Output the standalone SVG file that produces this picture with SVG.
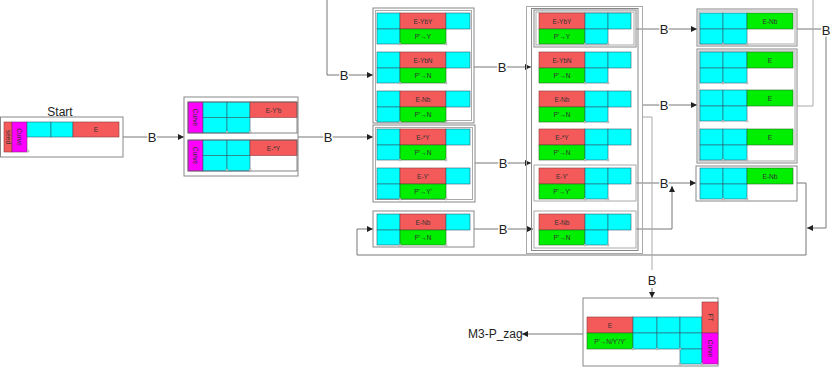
<svg xmlns="http://www.w3.org/2000/svg" width="830" height="368" viewBox="0 0 830 368">
<style>
.c{fill:#00ffff;stroke:#2f5f70;stroke-width:.6}
.r{fill:#f55a5a;stroke:#8a3a3a;stroke-width:.6}
.g{fill:#00ee00;stroke:#2a6a2a;stroke-width:.6}
.m{fill:#ff00ff;stroke:#7a2a7a;stroke-width:.6}
.box{fill:none;stroke:#888;stroke-width:1}
.box2{fill:none;stroke:#aaa;stroke-width:1}
.inb{fill:none;stroke:#666;stroke-width:.8}
.t{font-family:"Liberation Sans",Arial,sans-serif;font-size:6.5px;fill:#333;text-anchor:middle;dominant-baseline:central}
.lb{font-family:"Liberation Sans",Arial,sans-serif;font-size:13px;fill:#222;text-anchor:middle;dominant-baseline:central;paint-order:stroke;stroke:#fff;stroke-width:3}
.tx{font-family:"Liberation Sans",Arial,sans-serif;font-size:12px;fill:#222}
.cn{fill:none;stroke:#777;stroke-width:1}
.pt{fill:#fff;stroke:#888;stroke-width:.6}
</style>
<defs>
<marker id="ar" viewBox="0 0 6 6" refX="6" refY="3" markerWidth="6" markerHeight="6" markerUnits="userSpaceOnUse" orient="auto">
<path d="M0,0 L6,3 L0,6 z" fill="#222"/>
</marker>
<g id="lA">
<rect class="c" x="0" y="0" width="23" height="16"/>
<rect class="r" x="23" y="0" width="46" height="16"/>
<rect class="c" x="69" y="0" width="24" height="16"/>
<rect class="c" x="0" y="16" width="23" height="15"/>
<rect class="g" x="23" y="16" width="46" height="15"/>
<circle class="pt" cx="23" cy="31" r="1"/>
<circle class="pt" cx="69" cy="31" r="1"/>
</g>
<g id="lB">
<rect class="r" x="0" y="0" width="46" height="16"/>
<rect class="c" x="46" y="0" width="23" height="16"/>
<rect class="c" x="69" y="0" width="23" height="16"/>
<rect class="g" x="0" y="16" width="46" height="15"/>
<rect class="c" x="46" y="16" width="23" height="15"/>
<circle class="pt" cx="46" cy="31" r="1"/>
<circle class="pt" cx="69" cy="31" r="1"/>
</g>
<g id="lC">
<rect class="c" x="0" y="0" width="23" height="16"/>
<rect class="c" x="23" y="0" width="24" height="16"/>
<rect class="g" x="47" y="0" width="46" height="16"/>
<rect class="c" x="0" y="16" width="23" height="15"/>
<rect class="c" x="23" y="16" width="24" height="15"/>
<circle class="pt" cx="23" cy="31" r="1"/>
<circle class="pt" cx="47" cy="31" r="1"/>
</g>
<g id="lN2">
<rect class="m" x="0" y="0" width="15" height="31"/>
<rect class="c" x="15" y="0" width="24" height="15.5"/>
<rect class="c" x="39" y="0" width="23" height="15.5"/>
<rect class="r" x="62" y="0" width="47" height="15.5"/>
<rect class="c" x="15" y="15.5" width="24" height="15.5"/>
<rect class="c" x="39" y="15.5" width="23" height="15.5"/>
<rect class="inb" x="0" y="0" width="109" height="31"/>
<circle class="pt" cx="39" cy="30" r="1"/>
<circle class="pt" cx="62" cy="30" r="1"/>
</g>
</defs>
<rect width="830" height="368" fill="#fff"/>

<g id="connectors">
<path class="cn" d="M123,137 H184" marker-end="url(#ar)"/>
<path class="cn" d="M298,137 H373" marker-end="url(#ar)"/>
<path class="cn" d="M327,0 V75 H373" marker-end="url(#ar)"/>
<path class="cn" d="M474,67 H531" marker-end="url(#ar)"/>
<path class="cn" d="M475,163 H531" marker-end="url(#ar)"/>
<path class="cn" d="M474,229 H533" marker-end="url(#ar)"/>
<path class="cn" d="M797,183 H806 V255 H357 V229 H373" marker-end="url(#ar)"/>
<path class="cn" d="M797,29 H826 V228 H807" marker-end="url(#ar)"/>
<path class="box2" d="M797,106 H813 V0"/>
<path class="cn" d="M636,29 H697" marker-end="url(#ar)"/>
<path class="cn" d="M643,105 H697" marker-end="url(#ar)"/>
<path class="cn" d="M636,183 H696" marker-end="url(#ar)"/>
<path class="cn" d="M636,229 H672 V186" marker-end="url(#ar)"/>
<path class="box2" d="M643,117 H652 V270"/>
<path class="cn" d="M652,288 V298" marker-end="url(#ar)"/>
<path class="cn" d="M583,334 H522" marker-end="url(#ar)"/>
<text class="lb" x="152" y="137">B</text>
<text class="lb" x="328" y="137">B</text>
<text class="lb" x="344" y="75">B</text>
<text class="lb" x="502" y="67">B</text>
<text class="lb" x="503" y="163">B</text>
<text class="lb" x="503" y="229">B</text>
<text class="lb" x="664" y="29">B</text>
<text class="lb" x="664" y="105">B</text>
<text class="lb" x="664" y="183">B</text>
<text class="lb" x="652" y="280">B</text>
<text class="lb" x="826" y="30">B</text>
<text class="tx" x="468" y="338">M3-P_zag</text>
</g>

<g id="start">
<text class="tx" x="60" y="116" text-anchor="middle" font-size="13">Start</text>
<rect class="box" x="0.5" y="117" width="122.5" height="40"/>
<rect class="r" x="4" y="122" width="8" height="30"/>
<rect class="m" x="12" y="122" width="15" height="30"/>
<rect class="c" x="27" y="122" width="24" height="15"/>
<rect class="c" x="51" y="122" width="22" height="15"/>
<rect class="r" x="73" y="122" width="46" height="15"/>
<circle class="pt" cx="28" cy="151" r="1"/>
<text class="t" transform="translate(8,137) rotate(90)">seed</text>
<text class="t" transform="translate(19.5,137) rotate(90)">Curve</text>
<text class="t" x="96" y="129.5">E</text>
</g>

<g id="node2">
<rect class="box" x="184" y="97" width="114" height="79"/>
<use href="#lN2" x="188" y="102"/>
<use href="#lN2" x="188" y="140"/>
<text class="t" transform="translate(195.5,117.5) rotate(90)">Curve</text>
<text class="t" transform="translate(195.5,155.5) rotate(90)">Curve</text>
<text class="t" x="273.5" y="110">E-Y'b</text>
<text class="t" x="273.5" y="148">E-*Y</text>
</g>

<g id="col3top">
<rect class="box" x="373" y="8" width="101" height="115"/>
<rect class="box2" x="375.5" y="10.5" width="96" height="110"/>
<use href="#lA" x="377" y="13"/>
<text class="t" x="423" y="21">E-YbY</text>
<text class="t" x="423" y="36.5">P'→Y</text>
<use href="#lA" x="377" y="52"/>
<text class="t" x="423" y="60">E-YbN</text>
<text class="t" x="423" y="75.5">P'→N</text>
<use href="#lA" x="377" y="91"/>
<text class="t" x="423" y="99">E-Nb</text>
<text class="t" x="423" y="114.5">P'→N</text>
</g>

<g id="col3mid">
<rect class="box" x="373" y="125" width="102" height="77"/>
<rect class="box2" x="375.5" y="127.5" width="97" height="72"/>
<use href="#lA" x="377" y="129"/>
<text class="t" x="423" y="137">E-*Y</text>
<text class="t" x="423" y="152.5">P'→N</text>
<use href="#lA" x="377" y="168"/>
<text class="t" x="423" y="176">E-Y'</text>
<text class="t" x="423" y="191.5">P'→Y'</text>
</g>

<g id="col3bot">
<rect class="box" x="373" y="211" width="101" height="36"/>
<use href="#lA" x="377" y="214"/>
<text class="t" x="423" y="222">E-Nb</text>
<text class="t" x="423" y="237.5">P'→N</text>
</g>

<g id="col4">
<rect class="box2" x="526.5" y="6.5" width="116" height="247"/>
<rect class="box" x="531.5" y="8.5" width="106.5" height="242"/>
<rect class="box" x="534" y="10" width="102" height="37"/>
<rect class="box2" x="536" y="12" width="98" height="33"/>
<use href="#lB" x="539" y="13"/>
<text class="t" x="562" y="21">E-YbY</text>
<text class="t" x="562" y="36.5">P'→Y</text>
<use href="#lB" x="539" y="52"/>
<text class="t" x="562" y="60">E-YbN</text>
<text class="t" x="562" y="75.5">P'→N</text>
<use href="#lB" x="539" y="91"/>
<text class="t" x="562" y="99">E-Nb</text>
<text class="t" x="562" y="114.5">P'→N</text>
<use href="#lB" x="539" y="129"/>
<text class="t" x="562" y="137">E-*Y</text>
<text class="t" x="562" y="152.5">P'→N</text>
<rect class="box2" x="534" y="165" width="102" height="36"/>
<use href="#lB" x="539" y="168"/>
<text class="t" x="562" y="176">E-Y'</text>
<text class="t" x="562" y="191.5">P'→Y'</text>
<rect class="box2" x="534" y="211" width="102" height="37"/>
<use href="#lB" x="539" y="214"/>
<text class="t" x="562" y="222">E-Nb</text>
<text class="t" x="562" y="237.5">P'→N</text>
</g>

<g id="col5top">
<rect class="box" x="697" y="9" width="100" height="37"/>
<rect class="box2" x="699" y="11" width="96" height="33"/>
<use href="#lC" x="700" y="13"/>
<text class="t" x="770" y="21">E-Nb</text>
</g>

<g id="col5mid">
<rect class="box" x="697" y="49" width="100" height="114"/>
<rect class="box2" x="699" y="51" width="96" height="110"/>
<use href="#lC" x="700" y="52"/>
<text class="t" x="770" y="60">E</text>
<use href="#lC" x="700" y="90"/>
<text class="t" x="770" y="98">E</text>
<use href="#lC" x="700" y="129"/>
<text class="t" x="770" y="137">E</text>
</g>

<g id="col5bot">
<rect class="box" x="696" y="166" width="101" height="35"/>
<use href="#lC" x="700" y="168"/>
<text class="t" x="770" y="176">E-Nb</text>
</g>

<g id="final">
<rect class="box" x="583" y="298" width="135" height="68"/>
<rect class="r" x="587" y="317" width="46" height="16"/>
<rect class="c" x="633" y="317" width="24" height="16"/>
<rect class="c" x="657" y="317" width="23" height="16"/>
<rect class="c" x="680" y="317" width="22" height="16"/>
<rect class="g" x="587" y="333" width="46" height="16"/>
<rect class="c" x="633" y="333" width="24" height="16"/>
<rect class="c" x="657" y="333" width="23" height="16"/>
<rect class="c" x="680" y="333" width="22" height="16"/>
<rect class="c" x="680" y="349" width="22" height="15"/>
<rect class="r" x="702" y="302" width="16" height="31"/>
<rect class="m" x="702" y="333" width="16" height="31"/>
<circle class="pt" cx="633" cy="349" r="1"/>
<circle class="pt" cx="657" cy="349" r="1"/>
<circle class="pt" cx="680" cy="349" r="1"/>
<circle class="pt" cx="680" cy="364" r="1"/>
<circle class="pt" cx="702" cy="364" r="1"/>
<text class="t" x="610" y="325">E</text>
<text class="t" x="610" y="341" font-size="6">P'→N/Y'/Y'</text>
<text class="t" transform="translate(710,317.5) rotate(90)">FT</text>
<text class="t" transform="translate(710,348.5) rotate(90)">Curve</text>
</g>
</svg>
